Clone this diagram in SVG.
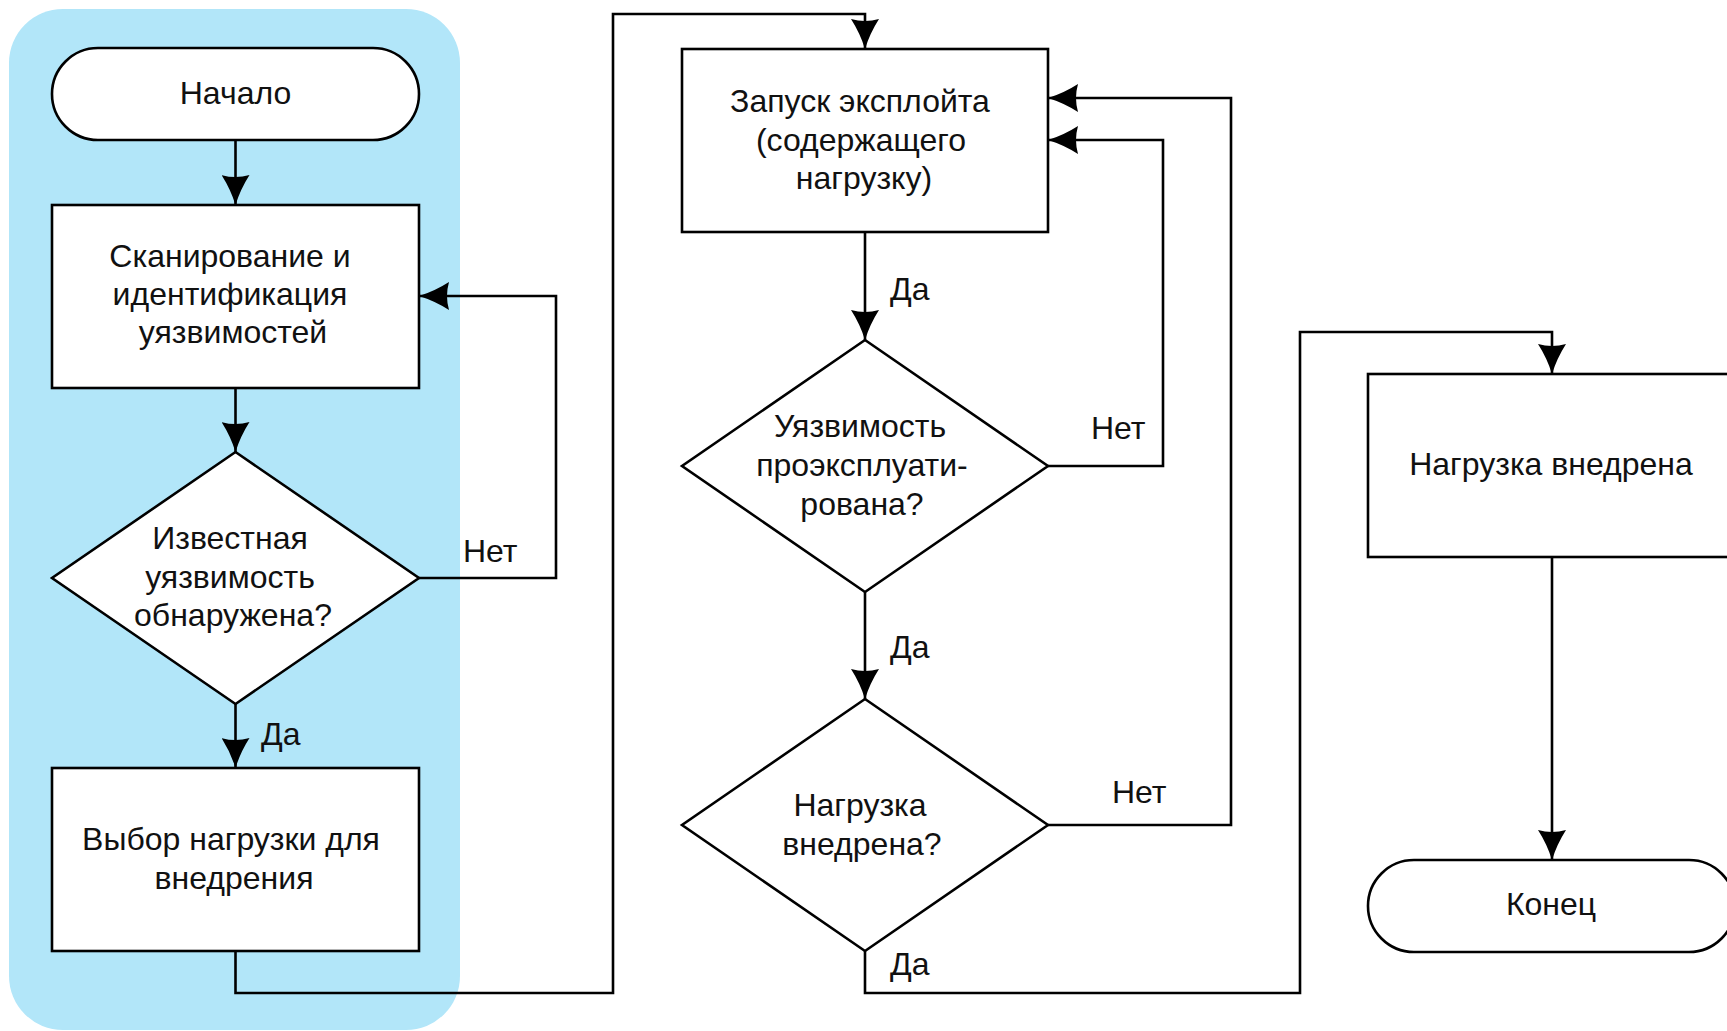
<svg xmlns="http://www.w3.org/2000/svg" width="1727" height="1031" viewBox="0 0 1727 1031">
<style>
.n{fill:#fff;stroke:#000;stroke-width:2.6}
.c{fill:none;stroke:#000;stroke-width:2.6}
.a{marker-end:url(#ah)}
text{font-family:"Liberation Sans",Arial,sans-serif;font-size:32px;fill:#111}
.m{text-anchor:middle}
</style>
<defs>
<marker id="ah" markerUnits="userSpaceOnUse" viewBox="0 0 30 28" markerWidth="30" markerHeight="28" refX="30" refY="14" orient="auto">
<path d="M0,0 Q14,9 30,14 Q14,19 0,28 Q4,14 0,0 Z" fill="#000"/>
</marker>
</defs>
<rect x="9" y="9" width="451" height="1021" rx="54" fill="#b2e6f9"/>
<g id="connectors">
<path class="c a" d="M235.5,140 V205"/>
<path class="c a" d="M235.5,388 V452"/>
<path class="c a" d="M235.5,704 V768"/>
<path class="c a" d="M419,578 H556 V296 H419"/>
<path class="c a" d="M235.5,951 V993 H613 V14 H865 V49"/>
<path class="c a" d="M865,232 V340"/>
<path class="c a" d="M865,592 V699"/>
<path class="c a" d="M1048,466 H1163 V140 H1048"/>
<path class="c a" d="M1048,825 H1231 V98 H1048"/>
<path class="c a" d="M865,951 V993 H1300 V332 H1552 V374"/>
<path class="c a" d="M1552,557 V860"/>
<text x="261" y="745">Да</text>
<text x="463" y="562">Нет</text>
<text x="890" y="300">Да</text>
<text x="890" y="658">Да</text>
<text x="890" y="975">Да</text>
<text x="1091" y="439">Нет</text>
<text x="1112" y="803">Нет</text>
</g>
<g id="start">
<rect class="n" x="52" y="48" width="367" height="92" rx="46"/>
<text class="m" x="235.5" y="104">Начало</text>
</g>
<g id="scan">
<rect class="n" x="52" y="205" width="367" height="183"/>
<text class="m" x="230" y="267">Сканирование и</text>
<text class="m" x="230" y="305">идентификация</text>
<text class="m" x="233" y="343">уязвимостей</text>
</g>
<g id="known">
<polygon class="n" points="235.5,452 419,578 235.5,704 52,578"/>
<text class="m" x="230" y="549">Известная</text>
<text class="m" x="230" y="588">уязвимость</text>
<text class="m" x="233" y="626">обнаружена?</text>
</g>
<g id="choose">
<rect class="n" x="52" y="768" width="367" height="183"/>
<text class="m" x="231" y="850">Выбор нагрузки для</text>
<text class="m" x="234" y="889">внедрения</text>
</g>
<g id="launch">
<rect class="n" x="682" y="49" width="366" height="183"/>
<text class="m" x="860" y="112">Запуск эксплойта</text>
<text class="m" x="861" y="151">(содержащего</text>
<text class="m" x="864" y="189">нагрузку)</text>
</g>
<g id="exploited">
<polygon class="n" points="865,340 1048,466 865,592 682,466"/>
<text class="m" x="860" y="437">Уязвимость</text>
<text class="m" x="862" y="476">проэксплуати-</text>
<text class="m" x="862" y="515">рована?</text>
</g>
<g id="injected-q">
<polygon class="n" points="865,699 1048,825 865,951 682,825"/>
<text class="m" x="860" y="816">Нагрузка</text>
<text class="m" x="862" y="855">внедрена?</text>
</g>
<g id="injected">
<rect class="n" x="1368" y="374" width="367" height="183"/>
<text class="m" x="1551" y="475">Нагрузка внедрена</text>
</g>
<g id="end">
<rect class="n" x="1368" y="860" width="367" height="92" rx="46"/>
<text class="m" x="1551" y="915">Конец</text>
</g>
</svg>
